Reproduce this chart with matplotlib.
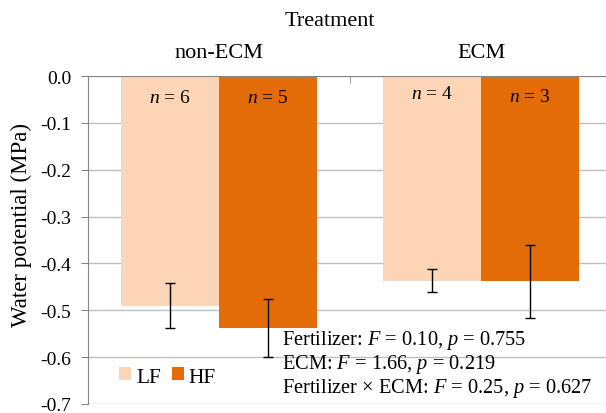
import matplotlib.pyplot as plt
import numpy as np
from matplotlib.ticker import FuncFormatter

plt.rcParams['font.family'] = ['Liberation Serif', 'DejaVu Serif']
plt.rcParams['mathtext.fontset'] = 'custom'
plt.rcParams['mathtext.rm'] = 'Liberation Serif'
plt.rcParams['mathtext.it'] = 'Liberation Serif:italic'
plt.rcParams['axes.unicode_minus'] = False

# Data
treatments = ['non-ECM', 'ECM']
series = ['LF', 'HF']
means = [
    [-0.490, -0.437],  # LF
    [-0.538, -0.438],  # HF
]
errors = [
    [0.048, 0.025],  # LF
    [0.062, 0.078],  # HF
]
n_counts = [
    [6, 4],  # LF
    [5, 3],  # HF
]
n_label_y = [
    [-0.056, -0.047],
    [-0.056, -0.053],
]
stats_lines = [
    'Fertilizer: $F$ = 0.10, $p$ = 0.755',
    'ECM: $F$ = 1.66, $p$ = 0.219',
    'Fertilizer × ECM: $F$ = 0.25, $p$ = 0.627',
]
colors = ['#FBD5B5', '#E36C09']

W, H = 606, 414
fig = plt.figure(figsize=(W / 100, H / 100), dpi=100)
ax = fig.add_axes([88 / W, 9 / H, 524 / W, 328 / H])

x = np.arange(len(treatments))
bar_width = 0.375
for i, s in enumerate(series):
    pos = x + (i - 0.5) * bar_width
    ax.bar(pos, means[i], bar_width, color=colors[i], label=s, zorder=2)
    ax.errorbar(pos, means[i], yerr=errors[i], fmt='none', ecolor='black',
                elinewidth=1, capsize=3.5, capthick=1, zorder=3)
    for j, n in enumerate(n_counts[i]):
        ax.text(pos[j], n_label_y[i][j], f'$n$ = {n}', ha='center', va='baseline',
                fontsize=14, zorder=4)

ax.set_xlim(-0.5, 1.5)
ax.set_ylim(-0.7, 0)
ax.set_yticks(np.round(np.arange(-0.7, 0.01, 0.1), 1))
ax.yaxis.set_major_formatter(FuncFormatter(lambda v, p: f'{v:.1f}'.replace('-0.0', '0.0')))
ax.yaxis.grid(True, color='#BFBFBF', linewidth=1, zorder=0)
ax.set_axisbelow(True)

ax.xaxis.tick_top()
ax.set_xticks(x)
ax.set_xticklabels(treatments)
ax.set_xticks([0.5], minor=True)
ax.tick_params(axis='x', which='major', length=0, pad=10, labelsize=16)
ax.tick_params(axis='x', which='minor', direction='in', length=5, color='#868686')
ax.tick_params(axis='y', length=5, color='#868686', labelsize=14, pad=7)

for side in ['right', 'bottom']:
    ax.spines[side].set_visible(False)
for side in ['left', 'top']:
    ax.spines[side].set_color('#868686')

fig.text(21 / W, 1 - 225 / H, 'Water potential (MPa)', rotation=90,
         ha='center', va='center', fontsize=16.5)
fig.text(330 / W, 1 - 22 / H, 'Treatment', ha='center', va='center', fontsize=16)

ax.legend(loc='center left', bbox_to_anchor=(108 / W, 1 - 378 / H),
          bbox_transform=fig.transFigure, frameon=False, ncol=2, borderpad=0,
          handlelength=0.56, handleheight=0.56, handletextpad=0.25,
          columnspacing=0.5, fontsize=15.4)

for k, line in enumerate(stats_lines):
    fig.text(282 / W, 1 - (345 + 24 * k) / H, line, ha='left', va='baseline',
             fontsize=14.7)

fig.savefig('out.png', dpi=100)
